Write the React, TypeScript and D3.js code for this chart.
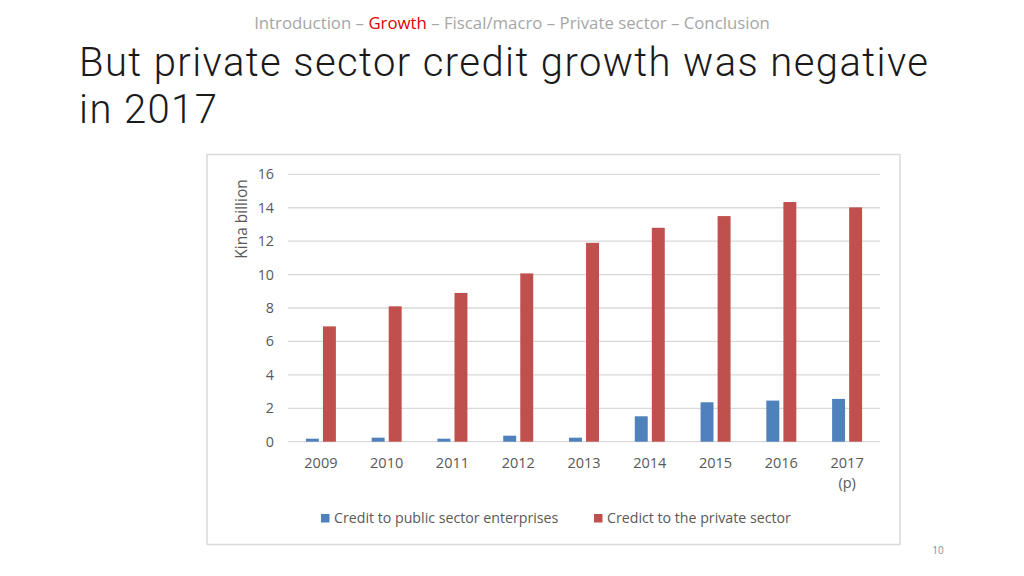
import React from "react";
import * as d3 from "d3";

const categories = ["2009", "2010", "2011", "2012", "2013", "2014", "2015", "2016", "2017"];
const categoryLabels = [["2009"], ["2010"], ["2011"], ["2012"], ["2013"], ["2014"], ["2015"], ["2016"], ["2017", "(p)"]];
const publicCredit = [0.18, 0.24, 0.18, 0.36, 0.24, 1.52, 2.36, 2.46, 2.56];
const privateCredit = [6.9, 8.1, 8.9, 10.07, 11.9, 12.8, 13.5, 14.34, 14.02];
const yTicks = [0, 2, 4, 6, 8, 10, 12, 14, 16];
const seriesNames = ["Credit to public sector enterprises", "Credict to the private sector"];
const titleLines = ["But private sector credit growth was negative", "in 2017"];
const colors = ["#4f81bd", "#c0504d"];

export default function App() {
  const W = 1024, H = 576;
  const plotL = 288, plotR = 880, plotT = 174.3, plotB = 441.7;
  const x = d3.scaleBand<string>().domain(categories).range([plotL, plotR]).paddingInner(0).paddingOuter(0);
  const y = d3.scaleLinear().domain([0, 16]).range([plotB, plotT]);
  const sub = d3.scaleBand<string>().domain(["pub", "priv"]).range([0, x.bandwidth()]).paddingInner(0.24).paddingOuter(1.05);
  const font = "'Open Sans', sans-serif";
  const axisColor = "#595959";
  const series = [publicCredit, privateCredit];
  const keys = ["pub", "priv"];

  return (
    <svg width={W} height={H} style={{ position: "absolute", left: 0, top: 0, background: "#fff" }}>
      <text x={512} y={29} textAnchor="middle" fontFamily={font} fontSize={16.8} fill="#a6a6a6">
        Introduction – <tspan fill="#e00000">Growth</tspan> – Fiscal/macro – Private sector – Conclusion
      </text>
      {titleLines.map((l, i) => (
        <text key={i} x={79} y={76 + i * 47} fontFamily="Roboto, sans-serif" fontWeight={300} fontSize={40} letterSpacing={1.4} fill="#1a1a1a">
          {l}
        </text>
      ))}
      <rect x={207} y={154.5} width={693} height={390} fill="#fff" stroke="#d9d9d9" strokeWidth={1.5} />
      {yTicks.map((t) => (
        <g key={t}>
          <line x1={plotL} x2={plotR} y1={y(t)} y2={y(t)} stroke="#d9d9d9" strokeWidth={1.3} />
          <text x={274} y={y(t)} dy="0.35em" textAnchor="end" fontFamily={font} fontSize={14.3} fill={axisColor}>
            {t}
          </text>
        </g>
      ))}
      <text transform="translate(247,219) rotate(-90)" textAnchor="middle" fontFamily={font} fontSize={15.5} fill={axisColor}>
        Kina billion
      </text>
      {series.map((vals, si) =>
        vals.map((v, i) => (
          <rect
            key={si + "-" + i}
            x={(x(categories[i]) as number) + (sub(keys[si]) as number)}
            y={y(v)}
            width={sub.bandwidth()}
            height={y(0) - y(v)}
            fill={colors[si]}
          />
        ))
      )}
      {categoryLabels.map((lines, i) =>
        lines.map((l, j) => (
          <text
            key={i + "-" + j}
            x={(x(categories[i]) as number) + x.bandwidth() / 2}
            y={468 + j * 20}
            textAnchor="middle"
            fontFamily={font}
            fontSize={14.5}
            fill={axisColor}
          >
            {l}
          </text>
        ))
      )}
      {seriesNames.map((n, i) => {
        const lx = i === 0 ? 321 : 594;
        return (
          <g key={n}>
            <rect x={lx} y={514} width={8.5} height={8.5} fill={colors[i]} />
            <text x={lx + 13} y={523} fontFamily={font} fontSize={14.2} fill={axisColor}>
              {n}
            </text>
          </g>
        );
      })}
      <text x={938} y={554} textAnchor="middle" fontFamily={font} fontSize={10} fill="#8c8c8c">
        10
      </text>
    </svg>
  );
}
